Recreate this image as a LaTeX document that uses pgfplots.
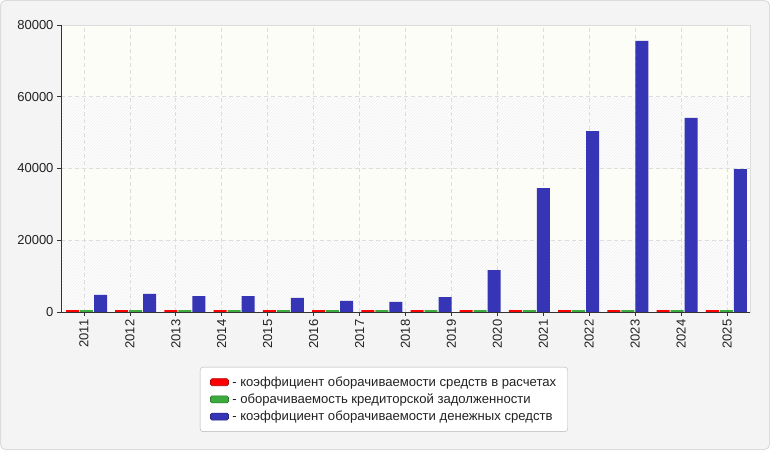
\documentclass[border=0pt]{standalone}
\usepackage{fontspec}
\setmainfont{Liberation Sans}
\usepackage{pgfplots}
\pgfplotsset{compat=1.18}
\usetikzlibrary{patterns}
\definecolor{bgout}{HTML}{F4F4F4}
\definecolor{bgborder}{HTML}{DCDCDC}
\definecolor{plainband}{HTML}{FDFDF7}
\definecolor{gridc}{HTML}{DDDDDD}
\definecolor{axdark}{HTML}{333333}
\definecolor{cred}{HTML}{FF0000}
\definecolor{cgreen}{HTML}{3CAA3C}
\definecolor{cblue}{HTML}{3535B5}
\definecolor{txt}{HTML}{222222}
\begin{document}
\begin{tikzpicture}[x=1pt,y=1pt]
\fill[bgout, draw=bgborder, rounded corners=5pt, line width=1pt] (0.5,0.5) rectangle (769.5,449.5);
% plot-area background bands (axis box spans x 61..750, y 138..425)
\fill[white] (61,138) rectangle (750,425);
\fill[pattern=north east lines, pattern color=gray!13] (61,138) rectangle (750,209.75);
\fill[plainband] (61,209.75) rectangle (750,281.5);
\fill[pattern=north east lines, pattern color=gray!13] (61,281.5) rectangle (750,353.25);
\fill[plainband] (61,353.25) rectangle (750,425);
\begin{axis}[
  at={(61pt,138pt)}, anchor=south west,
  scale only axis, width=689pt, height=287pt,
  xmin=-0.5, xmax=13.5, ymin=0, ymax=80000,
  ybar, bar width=0.264,
  xtick={-0.03333,0.9,1.83333,2.76667,3.7,4.63333,5.56667,6.5,7.43333,8.36667,9.3,10.23333,11.16667,12.1,13.03333},
  xticklabels={2011,2012,2013,2014,2015,2016,2017,2018,2019,2020,2021,2022,2023,2024,2025},
  x tick label style={rotate=90, anchor=east, font=\fontsize{13}{15}\selectfont, text=txt},
  ytick={0,20000,40000,60000,80000},
  scaled y ticks=false,
  yticklabel style={font=\fontsize{13}{15}\selectfont, text=txt, /pgf/number format/1000 sep={}, /pgf/number format/assume math mode=true},
  xtick pos=bottom, ytick pos=left, tick align=outside,
  major tick length=4pt,
  major tick style={draw=axdark, line width=0.8pt},
  xmajorgrids, ymajorgrids,
  major grid style={draw=gridc, dash pattern=on 4pt off 3pt, line width=0.8pt},
  axis line style={draw=gridc, line width=0.8pt},
  legend cell align=left,
  legend style={at={(0.2017,-0.1916)}, anchor=north west, draw=gray!60, rounded corners=3pt, fill=white,
    font=\fontsize{13.1}{15}\selectfont, text=txt, inner xsep=10pt, inner ysep=8pt,
    nodes={inner sep=1.5pt}, row sep=3pt,
    /tikz/every odd column/.append style={column sep=2pt}},
]
\addplot[fill=cred, draw=none, bar shift=-0.266,
  legend image code/.code={\draw[fill=cred, draw=cred!70!black, rounded corners=1.5pt, line width=0.6pt] (0pt,-3.5pt) rectangle (18pt,3.5pt);}]
  coordinates {(0,550) (1,550) (2,550) (3,550) (4,550) (5,550) (6,550) (7,550) (8,550) (9,550) (10,550) (11,550) (12,550) (13,550)};
\addlegendentry{- коэффициент оборачиваемости средств в расчетах}
\addplot[fill=cgreen, draw=none, bar shift=0.018,
  legend image code/.code={\draw[fill=cgreen, draw=cgreen!70!black, rounded corners=1.5pt, line width=0.6pt] (0pt,-3.5pt) rectangle (18pt,3.5pt);}]
  coordinates {(0,550) (1,550) (2,550) (3,550) (4,550) (5,550) (6,550) (7,550) (8,550) (9,550) (10,550) (11,550) (12,550) (13,550)};
\addlegendentry{- оборачиваемость кредиторской задолженности}
\addplot[fill=cblue, draw=none, bar shift=0.303,
  legend image code/.code={\draw[fill=cblue, draw=cblue!70!black, rounded corners=1.5pt, line width=0.6pt] (0pt,-3.5pt) rectangle (18pt,3.5pt);}]
  coordinates {(0,4740) (1,5020) (2,4460) (3,4460) (4,3950) (5,3070) (6,2790) (7,4180) (8,11700) (9,34560) (10,50450) (11,75540) (12,54080) (13,39860)};
\addlegendentry{- коэффициент оборачиваемости денежных средств}
\draw[axdark, line width=0.8pt] (rel axis cs:0,1) -- (rel axis cs:0,0) -- (rel axis cs:1,0);
\end{axis}
\end{tikzpicture}
\end{document}
